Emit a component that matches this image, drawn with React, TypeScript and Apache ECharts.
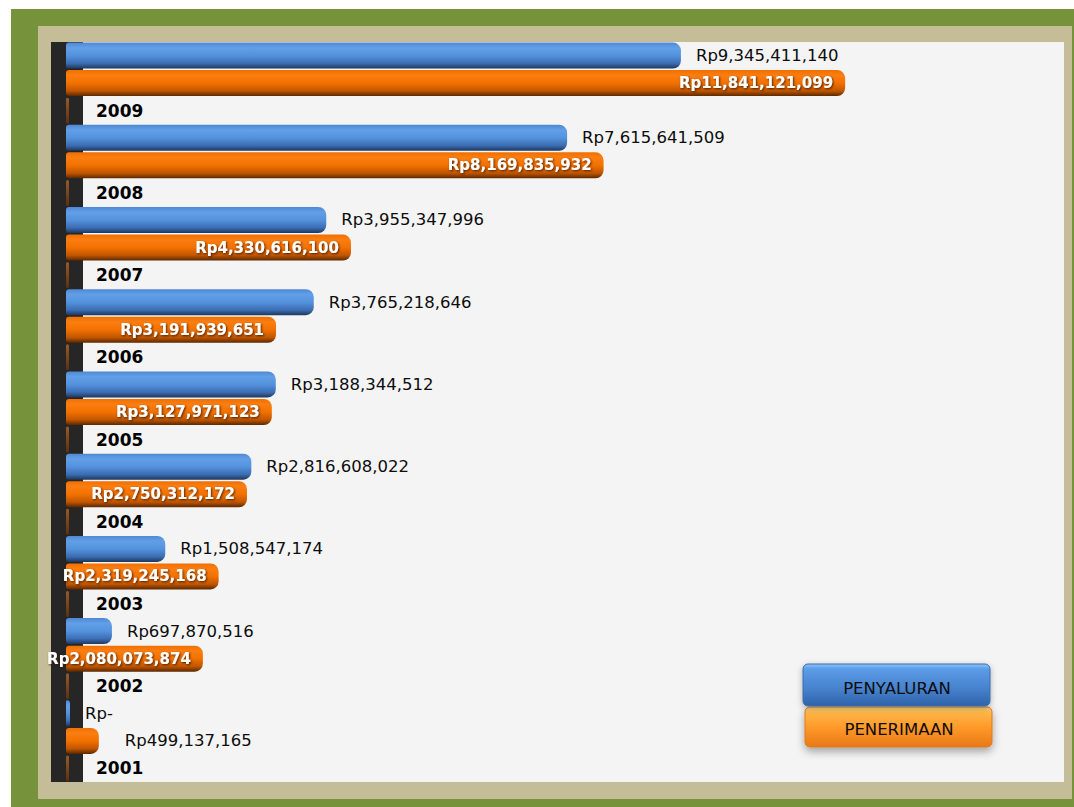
import React, { useEffect, useRef } from "react";
import * as echarts from "echarts";

const years = ["2001", "2002", "2003", "2004", "2005", "2006", "2007", "2008", "2009"];
const penyaluran = [0, 697870516, 1508547174, 2816608022, 3188344512, 3765218646, 3955347996, 7615641509, 9345411140];
const penerimaan = [499137165, 2080073874, 2319245168, 2750312172, 3127971123, 3191939651, 4330616100, 8169835932, 11841121099];
const yearRow = [0, 0, 0, 0, 0, 0, 0, 0, 0];
const seriesNames = ["PENYALURAN", "PENERIMAAN"];

const FONT = '"DejaVu Sans", Verdana, sans-serif';

const fmt = (v: number) => (v === 0 ? "Rp-" : "Rp" + v.toLocaleString("en-US"));

const grad = (stops: [number, string][]) =>
  new echarts.graphic.LinearGradient(0, 0, 0, 1, stops.map(([offset, color]) => ({ offset, color })));

export default function App() {
  const ref = useRef<HTMLDivElement>(null);
  useEffect(() => {
    if (!ref.current) return;
    const chart = echarts.init(ref.current, undefined, { renderer: "svg" });
    const blueFill = grad([
      [0, "#4f88d2"],
      [0.2, "#629fe8"],
      [0.5, "#5592dd"],
      [0.8, "#3b6db3"],
      [1, "#1e375c"],
    ]);
    const orangeFill = grad([
      [0, "#f07000"],
      [0.2, "#fb7e12"],
      [0.5, "#f27100"],
      [0.8, "#c05600"],
      [1, "#5a2800"],
    ]);
    const option: any = {
      animation: false,
      backgroundColor: "#ffffff",
      graphic: [
        { type: "rect", z: -30, silent: true, shape: { x: 11, y: 9, width: 1063, height: 798 }, style: { fill: "#76933c" } },
        { type: "rect", z: -29, silent: true, shape: { x: 38, y: 26, width: 1034, height: 773 }, style: { fill: "#c4bd97" } },
        { type: "rect", z: -28, silent: true, shape: { x: 51, y: 42, width: 1013, height: 740 }, style: { fill: "#f4f4f4" } },
        { type: "rect", z: -27, silent: true, shape: { x: 51, y: 42, width: 32, height: 740 }, style: { fill: "#262626" } },
        {
          type: "group",
          children: [
            {
              type: "rect",
              shape: { x: 805, y: 707, width: 187, height: 40, r: 5 },
              style: {
                fill: grad([
                  [0, "#ffd77a"],
                  [0.15, "#ffb548"],
                  [0.5, "#ff9a2a"],
                  [1, "#e87818"],
                ]),
                stroke: "#d87a20",
                lineWidth: 1,
                shadowBlur: 8,
                shadowColor: "rgba(0,0,0,0.35)",
                shadowOffsetY: 4,
              },
            },
            {
              type: "rect",
              shape: { x: 803, y: 664, width: 187, height: 42, r: 5 },
              style: {
                fill: grad([
                  [0, "#8cc4ff"],
                  [0.12, "#5c9ce6"],
                  [0.6, "#4681cc"],
                  [1, "#2f62a8"],
                ]),
                stroke: "#3a6db0",
                lineWidth: 1,
                shadowBlur: 6,
                shadowColor: "rgba(0,0,0,0.3)",
                shadowOffsetY: 2,
              },
            },
            {
              type: "text",
              style: {
                text: seriesNames[0],
                x: 897,
                y: 688,
                align: "center",
                verticalAlign: "middle",
                textAlign: "center",
                textVerticalAlign: "middle",
                fontSize: 16.5,
                fontFamily: FONT,
                fill: "#0d0d0d",
              },
            },
            {
              type: "text",
              style: {
                text: seriesNames[1],
                x: 899,
                y: 729,
                align: "center",
                verticalAlign: "middle",
                textAlign: "center",
                textVerticalAlign: "middle",
                fontSize: 16.5,
                fontFamily: FONT,
                fill: "#0d0d0d",
              },
            },
          ],
        },
      ],
      grid: { left: 66, top: 42, right: 21, bottom: 25, containLabel: false },
      xAxis: { type: "value", min: 0, max: 15e9, show: false, splitLine: { show: false } },
      yAxis: { type: "category", data: years, show: false },
      series: [
        {
          name: seriesNames[0],
          type: "bar",
          data: penyaluran,
          barWidth: 26,
          barGap: "6%",
          barCategoryGap: "0%",
          barMinHeight: 4,
          itemStyle: { color: blueFill, borderRadius: [3, 8, 8, 3] },
          label: {
            show: true,
            position: "right",
            distance: 15,
            formatter: (p: any) => fmt(p.value),
            fontFamily: FONT,
            fontSize: 16.5,
            color: "#0d0d0d",
          },
        },
        {
          name: seriesNames[1],
          type: "bar",
          data: penerimaan.map((v) =>
            v < 1e9
              ? {
                  value: v,
                  label: {
                    position: "right",
                    distance: 26,
                    color: "#0d0d0d",
                    fontWeight: "normal",
                    fontSize: 16.5,
                    textShadowBlur: 0,
                    textShadowOffsetX: 0,
                    textShadowOffsetY: 0,
                    textShadowColor: "transparent",
                  },
                }
              : v
          ),
          barWidth: 26,
          itemStyle: { color: orangeFill, borderRadius: [3, 8, 8, 3] },
          label: {
            show: true,
            position: "insideRight",
            distance: 12,
            formatter: (p: any) => fmt(p.value),
            fontFamily: FONT,
            fontSize: 15,
            fontWeight: "bold",
            color: "#ffffff",
            textShadowColor: "rgba(60,25,0,0.9)",
            textShadowBlur: 2,
            textShadowOffsetX: 1,
            textShadowOffsetY: 1,
          },
        },
        {
          name: "TAHUN",
          type: "bar",
          data: yearRow,
          barWidth: 26,
          barMinHeight: 3,
          itemStyle: { color: grad([[0, "#9a5a28"], [1, "#5a3010"]]), borderRadius: 2 },
          label: {
            show: true,
            position: "right",
            distance: 27,
            formatter: (p: any) => p.name,
            fontFamily: FONT,
            fontSize: 17,
            fontWeight: "bold",
            color: "#000000",
          },
        },
      ],
    };
    chart.setOption(option);
    return () => chart.dispose();
  }, []);
  return (
    <div
      ref={ref}
      style={{ position: "absolute", left: 0, top: 0, width: 1074, height: 807 }}
    />
  );
}
